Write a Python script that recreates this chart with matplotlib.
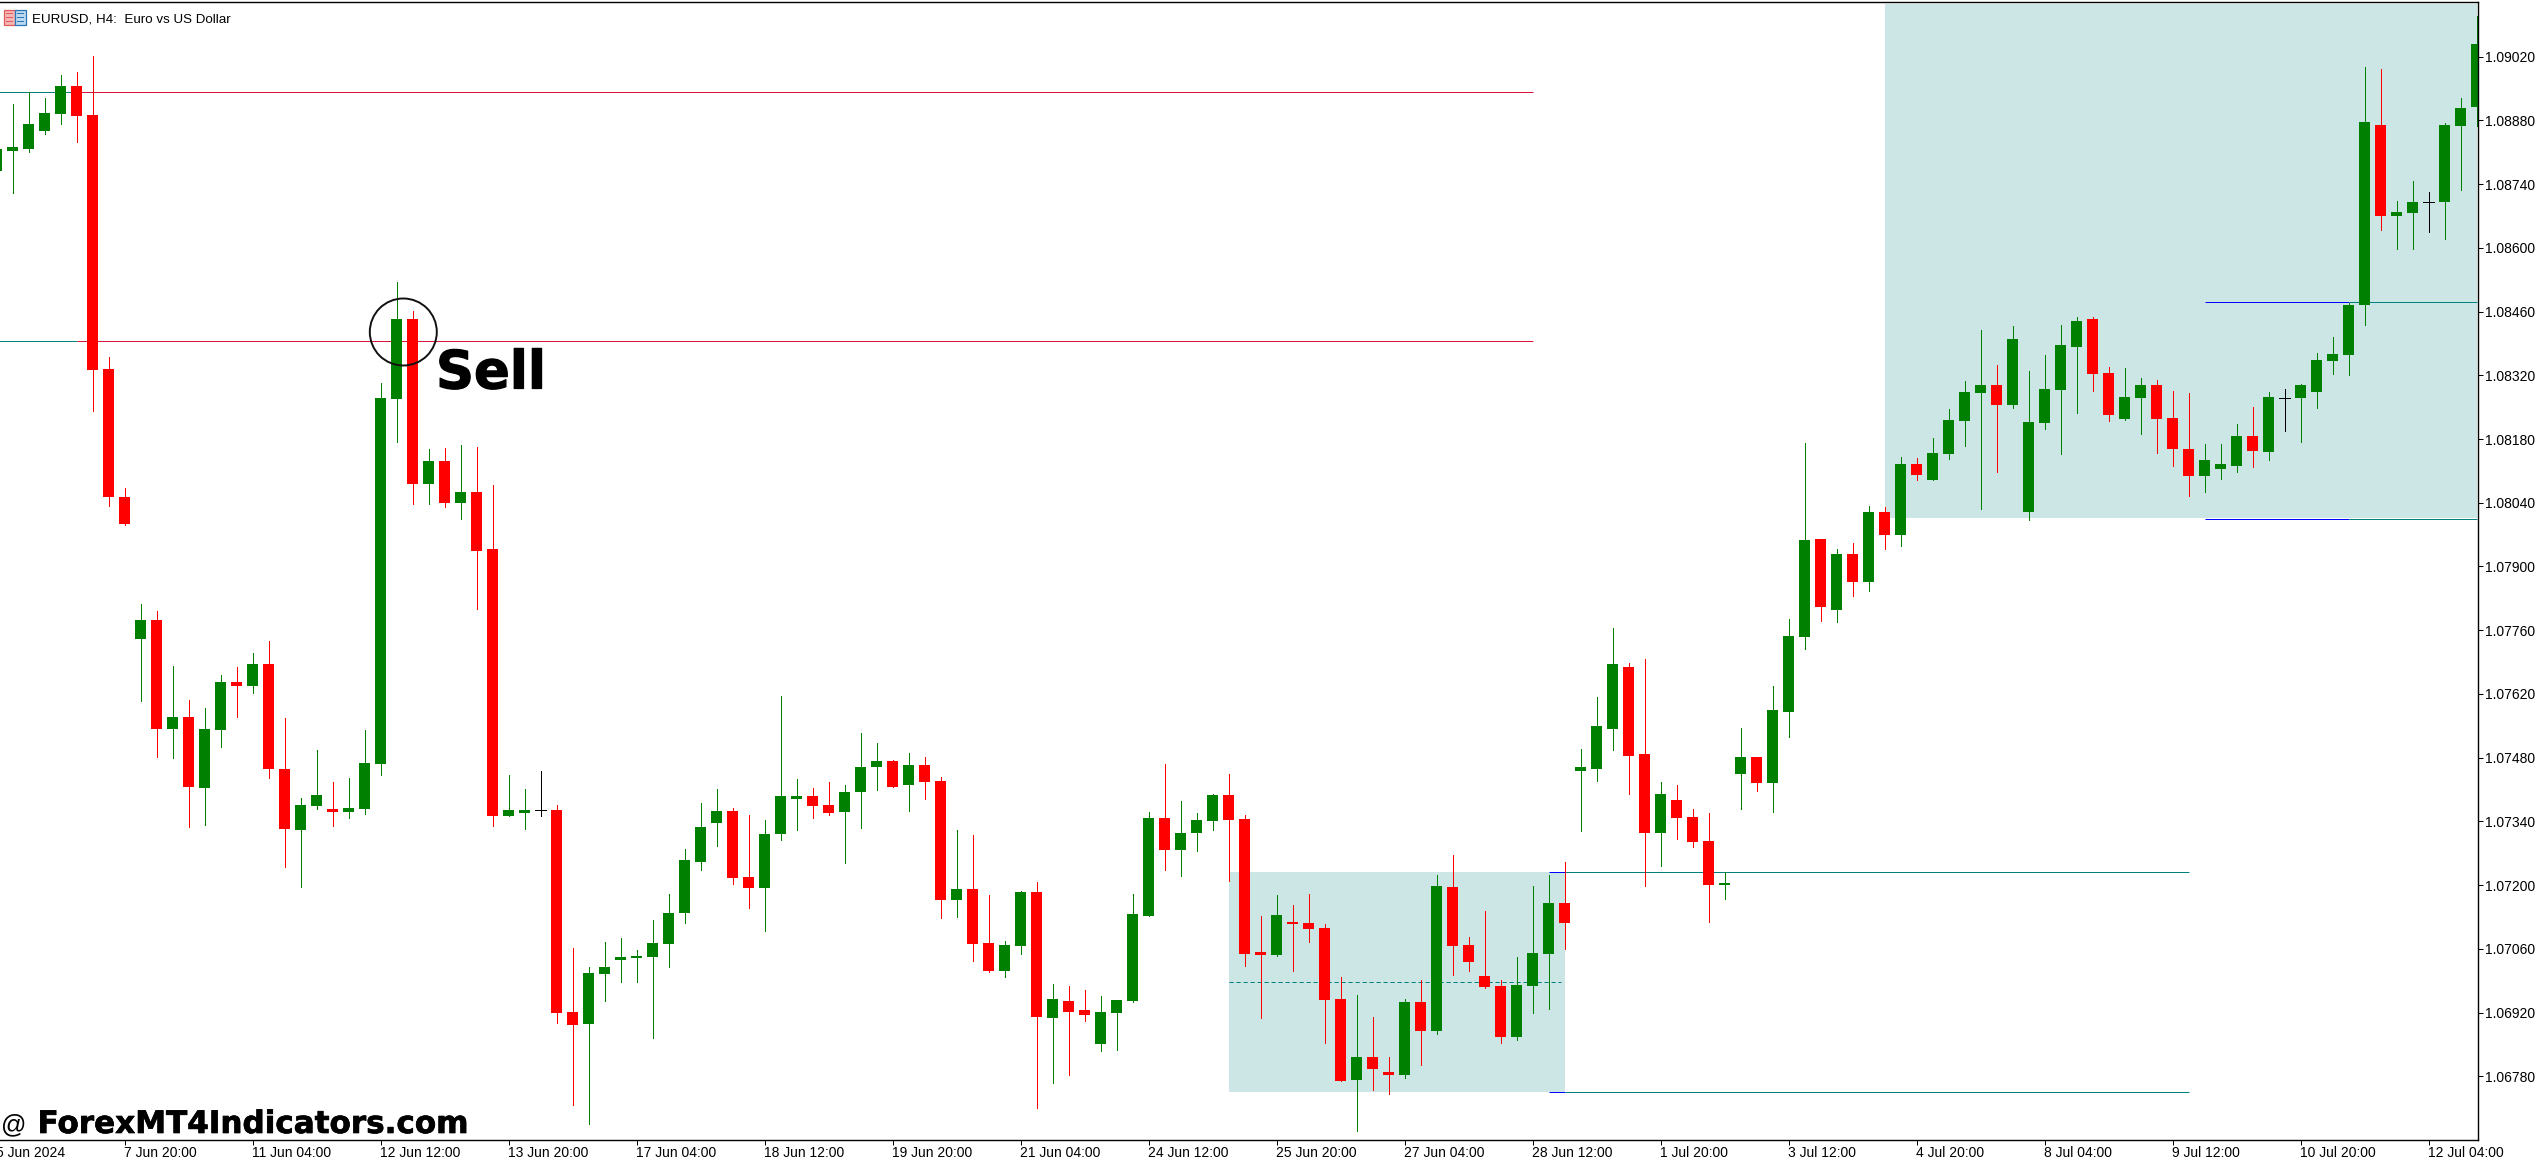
import matplotlib
matplotlib.use("Agg")
import matplotlib.pyplot as plt
from matplotlib.patches import Ellipse, Rectangle
from matplotlib.transforms import Affine2D, blended_transform_factory
import matplotlib.patheffects as pe

plt.rcParams['font.family'] = ['Liberation Sans', 'DejaVu Sans']

W, H = 2539, 1163

opens = [
 1.08769,1.08812,1.08817,1.08857,1.08894,1.08955,1.08891,1.08334,1.08052,1.07741,
 1.07782,1.07543,1.07570,1.07414,1.07541,1.07647,1.07638,1.07686,1.07455,1.07321,
 1.07374,1.07367,1.07361,1.07367,1.07466,1.08268,1.08443,1.08081,1.08131,1.08039,
 1.08063,1.07938,1.07352,1.07358,1.07366,1.07365,1.06921,1.06895,1.07005,1.07036,
 1.07040,1.07042,1.07071,1.07138,1.07251,1.07336,1.07363,1.07218,1.07194,1.07312,
 1.07389,1.07396,1.07376,1.07361,1.07405,1.07460,1.07473,1.07420,1.07464,1.07428,
 1.07167,1.07192,1.07073,1.07011,1.07067,1.07185,1.06908,1.06946,1.06925,1.06851,
 1.06919,1.06946,1.07132,1.07348,1.07277,1.07315,1.07341,1.07398,1.07345,1.07053,
 1.07046,1.07119,1.07116,1.07106,1.06950,1.06772,1.06822,1.06790,1.06783,1.06943,
 1.06880,1.07196,1.07068,1.07000,1.06978,1.06866,1.06978,1.07049,1.07161,1.07451,
 1.07455,1.07543,1.07679,1.07488,1.07315,1.07387,1.07350,1.07297,1.07201,1.07444,
 1.07482,1.07424,1.07580,1.07745,1.07960,1.07804,1.07927,1.07866,1.08020,1.07970,
 1.08125,1.08090,1.08147,1.08220,1.08281,1.08299,1.08255,1.08020,1.08215,1.08288,
 1.08382,1.08443,1.08325,1.08224,1.08270,1.08299,1.08226,1.08158,1.08099,1.08114,
 1.08120,1.08187,1.08151,1.08271,1.08270,1.08284,1.08352,1.08364,1.08474,1.08869,
 1.08670,1.08676,1.08700,1.08700,1.08868,1.08909]
closes = [
 1.08818,1.08822,1.08872,1.08896,1.08955,1.08890,1.08331,1.08052,1.07994,1.07782,
 1.07543,1.07570,1.07415,1.07543,1.07647,1.07638,1.07686,1.07455,1.07323,1.07376,
 1.07398,1.07361,1.07370,1.07468,1.08270,1.08443,1.08081,1.08131,1.08039,1.08063,
 1.07934,1.07352,1.07365,1.07365,1.07366,1.06919,1.06893,1.07007,1.07020,1.07042,
 1.07045,1.07073,1.07138,1.07255,1.07328,1.07363,1.07216,1.07194,1.07312,1.07396,
 1.07396,1.07374,1.07358,1.07405,1.07460,1.07473,1.07415,1.07464,1.07427,1.07167,
 1.07192,1.07071,1.07011,1.07068,1.07185,1.06911,1.06950,1.06921,1.06915,1.06921,
 1.06947,1.07137,1.07348,1.07277,1.07315,1.07344,1.07398,1.07344,1.07049,1.07046,
 1.07134,1.07115,1.07103,1.06947,1.06770,1.06822,1.06796,1.06783,1.06943,1.06880,
 1.07198,1.07067,1.07031,1.06976,1.06866,1.06981,1.07051,1.07161,1.07116,1.07460,
 1.07549,1.07686,1.07484,1.07315,1.07400,1.07348,1.07295,1.07201,1.07204,1.07482,
 1.07424,1.07585,1.07747,1.07958,1.07811,1.07927,1.07866,1.08020,1.07970,1.08125,
 1.08101,1.08149,1.08221,1.08284,1.08299,1.08255,1.08400,1.08217,1.08289,1.08386,
 1.08439,1.08323,1.08232,1.08273,1.08299,1.08224,1.08158,1.08099,1.08134,1.08125,
 1.08187,1.08153,1.08273,1.08271,1.08299,1.08353,1.08367,1.08474,1.08876,1.08670,
 1.08679,1.08700,1.08700,1.08869,1.08907,1.09048]
highs = [
 1.08850,1.08916,1.08943,1.08929,1.08980,1.08986,1.09022,1.08360,1.08073,1.07817,
 1.07803,1.07682,1.07607,1.07589,1.07661,1.07679,1.07710,1.07736,1.07567,1.07392,
 1.07497,1.07427,1.07435,1.07541,1.08303,1.08525,1.08461,1.08158,1.08160,1.08167,
 1.08163,1.08079,1.07442,1.07411,1.07451,1.07376,1.07062,1.07020,1.07075,1.07084,
 1.07058,1.07124,1.07180,1.07280,1.07380,1.07411,1.07370,1.07354,1.07344,1.07616,
 1.07433,1.07414,1.07427,1.07420,1.07535,1.07513,1.07475,1.07491,1.07482,1.07437,
 1.07321,1.07310,1.07179,1.07077,1.07187,1.07207,1.06982,1.06978,1.06969,1.06956,
 1.06947,1.07180,1.07361,1.07466,1.07385,1.07358,1.07401,1.07444,1.07354,1.07132,
 1.07179,1.07156,1.07180,1.07115,1.06998,1.06959,1.06911,1.06822,1.06950,1.06991,
 1.07223,1.07266,1.07086,1.07143,1.06991,1.07042,1.07198,1.07223,1.07251,1.07499,
 1.07613,1.07765,1.07688,1.07697,1.07427,1.07420,1.07367,1.07358,1.07228,1.07545,
 1.07482,1.07638,1.07785,1.08171,1.07960,1.07938,1.07952,1.08033,1.08031,1.08141,
 1.08138,1.08182,1.08246,1.08307,1.08420,1.08342,1.08428,1.08329,1.08364,1.08431,
 1.08448,1.08449,1.08338,1.08336,1.08314,1.08310,1.08285,1.08281,1.08169,1.08169,
 1.08213,1.08250,1.08284,1.08289,1.08300,1.08368,1.08404,1.08479,1.08997,1.08993,
 1.08703,1.08747,1.08722,1.08874,1.08929,1.09109]
lows = [
 1.08749,1.08721,1.08811,1.08850,1.08872,1.08832,1.08242,1.08033,1.07991,1.07605,
 1.07482,1.07479,1.07328,1.07332,1.07504,1.07570,1.07622,1.07435,1.07240,1.07196,
 1.07367,1.07330,1.07348,1.07357,1.07442,1.08173,1.08037,1.08037,1.08031,1.08004,
 1.07807,1.07330,1.07352,1.07323,1.07352,1.06897,1.06717,1.06675,1.06946,1.06987,
 1.06987,1.06864,1.07020,1.07116,1.07233,1.07286,1.07202,1.07150,1.07099,1.07299,
 1.07321,1.07348,1.07354,1.07249,1.07326,1.07409,1.07415,1.07363,1.07389,1.07128,
 1.07130,1.07033,1.07009,1.06998,1.07049,1.06710,1.06765,1.06783,1.06902,1.06835,
 1.06838,1.06943,1.07132,1.07233,1.07220,1.07275,1.07321,1.07209,1.07022,1.06908,
 1.07045,1.07011,1.07075,1.06853,1.06770,1.06660,1.06750,1.06741,1.06777,1.06805,
 1.06873,1.07003,1.07011,1.06974,1.06853,1.06860,1.06919,1.06928,1.07060,1.07319,
 1.07428,1.07497,1.07400,1.07198,1.07242,1.07301,1.07284,1.07119,1.07170,1.07367,
 1.07407,1.07361,1.07526,1.07718,1.07781,1.07778,1.07835,1.07846,1.07938,1.07945,
 1.08090,1.08089,1.08136,1.08164,1.08026,1.08108,1.08248,1.08002,1.08202,1.08147,
 1.08237,1.08285,1.08220,1.08221,1.08191,1.08149,1.08120,1.08055,1.08063,1.08092,
 1.08108,1.08119,1.08135,1.08198,1.08173,1.08248,1.08323,1.08321,1.08431,1.08639,
 1.08597,1.08597,1.08635,1.08619,1.08727,1.08868]
assert len(opens) == len(closes) == len(highs) == len(lows) == 156
first_bar = -1
bars = list(range(first_bar, first_bar + len(opens)))

price_ticks = [1.0678 + 0.0014 * i for i in range(17)]
time_tick_bars = list(range(-1, 152, 8))
time_labels = ["5 Jun 2024", "7 Jun 20:00", "11 Jun 04:00", "12 Jun 12:00", "13 Jun 20:00",
               "17 Jun 04:00", "18 Jun 12:00", "19 Jun 20:00", "21 Jun 04:00", "24 Jun 12:00",
               "25 Jun 20:00", "27 Jun 04:00", "28 Jun 12:00", "1 Jul 20:00", "3 Jul 12:00",
               "4 Jul 20:00", "8 Jul 04:00", "9 Jul 12:00", "10 Jul 20:00", "12 Jul 04:00"]

resistance_levels = [1.08943, 1.08395]
range_zones = [(76, 97, 1.06746, 1.07229), (117, 154, 1.08006, 1.09136)]
range_mid = 1.06987
zone_lines = [(96, 97, 136, 1.07228), (96, 97, 136, 1.06745),
              (137, 146, 154, 1.08482), (137, 146, 154, 1.08005)]

GREEN, RED = '#008000', '#ff0000'
CRIMSON, TEAL, BLUE, ZONE = '#dc143c', '#008080', '#0000ff', '#cce6e6'

fig = plt.figure(figsize=(W / 100, H / 100), dpi=100, facecolor='white')
ax = fig.add_axes([0, (H - 1139.5) / H, 2477.5 / W, (1139.5 - 1.5) / H])

LW = 0.72
for x0, x1, y0, y1 in range_zones:
    ax.fill_between([x0, x1], y0, y1, color=ZONE, lw=0, zorder=1)
ax.hlines(range_mid, 76, 96.8, color=TEAL, lw=LW, linestyles=(0, (4.2, 2.8)), zorder=2)
for y in resistance_levels:
    ax.hlines(y, -1, 4, color=TEAL, lw=LW, zorder=2)
    ax.hlines(y, 4, 95, color=CRIMSON, lw=LW, zorder=2)
for x0, x1, x2, y in zone_lines:
    ax.hlines(y, x0, x1, color=BLUE, lw=LW, zorder=2)
    ax.hlines(y, x1, x2, color=TEAL, lw=LW, zorder=2)

cols = [GREEN if c > o else RED if c < o else 'black' for o, c in zip(opens, closes)]
ax.vlines(bars, lows, highs, colors=cols, lw=LW, zorder=3, antialiased=False)
body_x = [b for b, o, c in zip(bars, opens, closes) if o != c]
body_h = [abs(c - o) for o, c in zip(opens, closes) if o != c]
body_b = [min(o, c) for o, c in zip(opens, closes) if o != c]
body_c = [k for k, o, c in zip(cols, opens, closes) if o != c]
ax.bar(body_x, body_h, bottom=body_b, width=0.67, color=body_c, lw=0, zorder=4, antialiased=False)
for b, o, c in zip(bars, opens, closes):
    if o == c:
        ax.hlines(o, b - 0.33, b + 0.33, color='black', lw=LW, zorder=4, antialiased=False)

ax.spines['left'].set_visible(False)
for side in ['top', 'right', 'bottom']:
    ax.spines[side].set_linewidth(1.0)
    ax.spines[side].set_color('black')
    ax.spines[side].set_zorder(6)

ax.yaxis.tick_right()
ax.set_yticks(price_ticks)
ax.set_yticklabels([f"{p:.5f}" for p in price_ticks], fontsize=10)
ax.tick_params(axis='y', length=3.6, width=0.72, pad=1.5, right=True, left=False)
ax.set_xticks(time_tick_bars)
ax.set_xticklabels([])
ax.tick_params(axis='x', length=3.6, width=0.72)

# limits last: set_xticks would otherwise widen the view to include bar -1
ax.set_xlim((0 - 12.5) / 16, (2477.5 - 12.5) / 16)
ax.set_ylim(1.0678 - (1139.5 - 1076.4) * 2.1966e-5, 1.0902 + (56.6 - 1.5) * 2.1966e-5)

tr = blended_transform_factory(ax.transData, ax.transAxes)
for b, lab in zip(time_tick_bars, time_labels):
    ax.text(b, -6.5 / 1138, lab, transform=tr, ha='left', va='top', fontsize=10, clip_on=False)

# pixel-space transform for annotations
px = Affine2D().scale(1 / W, -1 / H).translate(0, 1) + fig.transFigure
fig.add_artist(Ellipse((403.3, 332), 67, 67, transform=px, fill=False, ec='#111111', lw=1.4, zorder=10))
fig.text(436, 388.5, "Sell", transform=px, fontsize=38, fontweight='bold', family='DejaVu Sans',
         ha='left', va='baseline', zorder=10,
         path_effects=[pe.withStroke(linewidth=0.9, foreground='black')])
fig.text(1, 1132.5, "@", transform=px, fontsize=18, ha='left', va='baseline', zorder=10)
fig.text(37.5, 1133, "ForexMT4Indicators.com", transform=px, fontsize=22.35, fontweight='bold',
         family='DejaVu Sans', ha='left', va='baseline', zorder=10,
         path_effects=[pe.withStroke(linewidth=0.5, foreground='black')])
fig.text(32.5, 23, "EURUSD, H4:  Euro vs US Dollar", transform=px, fontsize=9.6,
         ha='left', va='baseline', zorder=10)

# window icon next to the title
for x0, w, ec, fc in [(4, 10.5, '#e05a5a', '#f4b6b6'), (15, 10.5, '#2a77b8', '#bcd8ee')]:
    fig.add_artist(Rectangle((x0, 9.5), w, 15, transform=px, fc=fc, ec=ec, lw=0.9, zorder=10))
    for yy in (12.5, 16.5, 20.5):
        fig.add_artist(Rectangle((x0 + 1.5, yy), w - 3, 1.6, transform=px, fc=ec, ec='none', zorder=11))

fig.savefig('out.png', dpi=100, facecolor='white')
